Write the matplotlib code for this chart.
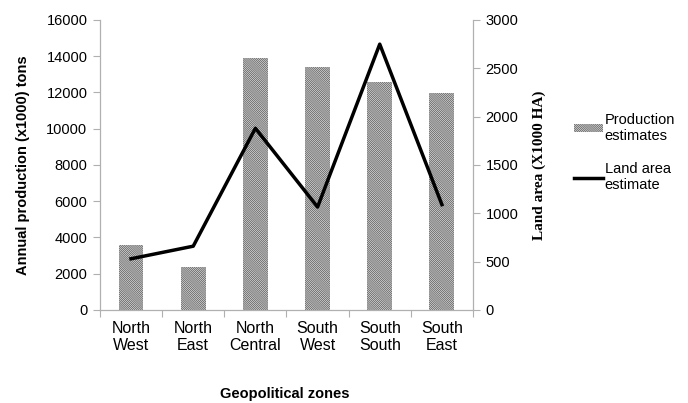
import numpy as np
import matplotlib.pyplot as plt
from matplotlib.patches import Patch
from matplotlib.lines import Line2D

plt.rcParams['font.family'] = ['Liberation Sans', 'DejaVu Sans']
plt.rcParams['hatch.linewidth'] = 0.7
plt.rcParams['hatch.color'] = '#6a6a6a'

zones = ['North\nWest', 'North\nEast', 'North\nCentral', 'South\nWest', 'South\nSouth', 'South\nEast']
production = [3600, 2350, 13900, 13400, 12600, 11950]
land_area = [530, 660, 1880, 1065, 2750, 1090]

x = np.arange(len(zones))
grey = '#b0b0b0'
hatch = '\\' * 16

fig = plt.figure(figsize=(6.88, 4.03), dpi=100)
ax = fig.add_axes([0.1453, 0.2308, 0.5422, 0.7196])
ax2 = ax.twinx()

ax.bar(x, production, width=0.4, color='white', edgecolor='#6a6a6a',
       hatch=hatch, linewidth=0)
ax2.plot(x, land_area, color='black', linewidth=2.5)

ax.set_xlim(-0.5, 5.5)
ax.set_ylim(0, 16000)
ax2.set_ylim(0, 3000)
ax.set_yticks(np.arange(0, 16001, 2000))
ax2.set_yticks(np.arange(0, 3001, 500))

# category boundaries carry the tick marks, labels sit at the centres
ax.set_xticks(np.arange(-0.5, 6.0, 1.0))
ax.set_xticklabels([])
ax.set_xticks(x, minor=True)
ax.set_xticklabels(zones, minor=True, fontsize=11.5, linespacing=1.2)
ax.tick_params(axis='x', which='minor', length=0, pad=8)
ax.tick_params(axis='x', which='major', length=5, color=grey, direction='out')
ax.tick_params(axis='y', length=5, color=grey, labelsize=10.5, pad=4)
ax2.tick_params(axis='y', length=5, color=grey, labelsize=10.5, pad=4)

for a in (ax, ax2):
    a.spines['top'].set_visible(False)
    for s in ('left', 'right', 'bottom'):
        a.spines[s].set_color(grey)

ax.set_ylabel('Annual production (x1000) tons', fontsize=10.5, fontweight='bold', labelpad=12)
ax2.set_ylabel('Land area (X1000 HA)', family='Liberation Serif', fontsize=11,
               fontweight='bold', labelpad=10)
fig.text(0.4135, 0.022, 'Geopolitical zones', ha='center', va='center',
         fontsize=10.5, fontweight='bold')

handles = [Patch(facecolor='white', edgecolor='#6a6a6a', hatch=hatch, linewidth=0),
           Line2D([0], [0], color='black', linewidth=2.5)]
fig.legend(handles, ['Production\nestimates', 'Land area\nestimate'],
           loc='upper left', bbox_to_anchor=(0.826, 0.735), frameon=False,
           fontsize=10.5, handlelength=2.0, handleheight=0.5, handletextpad=0.1,
           labelspacing=1.3, borderaxespad=0)

fig.savefig('out.png', dpi=100)
